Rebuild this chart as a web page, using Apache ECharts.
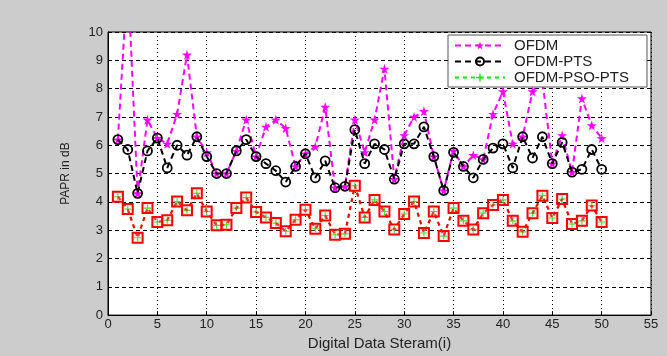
<!DOCTYPE html>
<html>
<head>
<meta charset="utf-8">
<script src="https://cdn.jsdelivr.net/npm/echarts@6/dist/echarts.min.js"></script>
<style>
html,body{margin:0;padding:0;background:#cccccc;}
#c{width:667px;height:356px;}
</style>
</head>
<body>
<div id="c"></div>
<script>
const streamIdx = [1,2,3,4,5,6,7,8,9,10,11,12,13,14,15,16,17,18,19,20,21,22,23,24,25,26,27,28,29,30,31,32,33,34,35,36,37,38,39,40,41,42,43,44,45,46,47,48,49,50];
const ofdm = [6.2,12,4.3,6.9,6.25,6.05,7.1,9.2,6.3,5.75,5.0,5.0,5.8,6.9,5.6,6.65,6.9,6.6,5.25,5.7,5.95,7.35,4.5,4.55,6.9,5.75,6.9,8.7,4.8,6.35,7.0,7.2,5.6,4.4,5.8,5.25,5.65,5.5,7.1,7.9,6.05,6.3,7.9,8.3,5.35,6.35,5.05,7.65,6.7,6.25];
const pts = [6.2,5.85,4.3,5.8,6.25,5.2,6.0,5.65,6.3,5.6,5.0,5.0,5.8,6.2,5.6,5.35,5.1,4.7,5.25,5.7,4.85,5.45,4.5,4.55,6.55,5.35,6.05,5.85,4.8,6.05,6.05,6.65,5.6,4.4,5.75,5.25,4.85,5.5,5.9,6.05,5.2,6.3,5.55,6.3,5.35,6.1,5.05,5.15,5.85,5.15];
const psoPts = [4.18,3.75,2.73,3.78,3.29,3.35,4.01,3.7,4.3,3.66,3.17,3.19,3.78,4.15,3.64,3.45,3.25,2.96,3.37,3.72,3.05,3.52,2.84,2.87,4.57,3.45,4.07,3.66,3.02,3.57,4.01,2.9,3.66,2.79,3.78,3.33,3.02,3.6,3.89,4.07,3.33,2.94,3.6,4.22,3.43,4.1,3.22,3.33,3.87,3.29];
const xTicks = [0,5,10,15,20,25,30,35,40,45,50,55];
const yTicks = [0,1,2,3,4,5,6,7,8,9,10];
const seriesNames = ['OFDM','OFDM-PTS','OFDM-PSO-PTS'];

const pair = arr => streamIdx.map((x,i)=>[x,arr[i]]);
const star = 'path://M50,0 L61,35 L98,35 L68,57 L79,91 L50,70 L21,91 L32,57 L2,35 L39,35 Z';
const plus = 'path://M42,0 L58,0 L58,42 L100,42 L100,58 L58,58 L58,100 L42,100 L42,58 L0,58 L0,42 L42,42 Z';
const font = 'Liberation Sans, Arial, sans-serif';

const chart = echarts.init(document.getElementById('c'), null, {renderer:'canvas'});
chart.setOption({
  backgroundColor:'#cccccc',
  animation:false,
  grid:{left:108, top:32, width:543, height:286, show:true, backgroundColor:'#ffffff', borderColor:'#000', borderWidth:1},
  xAxis:{
    type:'value', min:xTicks[0], max:xTicks[xTicks.length-1], interval:5,
    name:'Digital Data Steram(i)', nameLocation:'middle', nameGap:17,
    nameTextStyle:{fontFamily:font, fontSize:15, color:'#222'},
    axisLine:{show:true, lineStyle:{color:'#000'}},
    axisTick:{show:true, inside:true, length:4, lineStyle:{color:'#000'}},
    axisLabel:{fontFamily:font, fontSize:13, color:'#222', margin:3},
    splitLine:{show:true, lineStyle:{color:'#000', type:[1,3], width:1}}
  },
  yAxis:{
    type:'value', min:yTicks[0], max:yTicks[yTicks.length-1], interval:1,
    name:'PAPR in dB', nameLocation:'middle', nameGap:36, nameRotate:90,
    nameTextStyle:{fontFamily:font, fontSize:12, color:'#222'},
    axisLine:{show:true, lineStyle:{color:'#000'}},
    axisTick:{show:true, inside:true, length:4, lineStyle:{color:'#000'}},
    axisLabel:{fontFamily:font, fontSize:13, color:'#222', margin:5},
    splitLine:{show:true, lineStyle:{color:'#000', type:[4,3], width:1}}
  },
  legend:{
    data:seriesNames, orient:'vertical', left:448, top:35,
    backgroundColor:'#ffffff', borderColor:'#555', borderWidth:1, borderRadius:0,
    padding:[3,18,2,6], itemGap:1, itemWidth:50, itemHeight:10,
    textStyle:{fontFamily:font, fontSize:15, color:'#222', padding:[0,0,0,4]}
  },
  series:[
    {name:seriesNames[0], type:'line', data:pair(ofdm), symbol:star, symbolSize:10,
     itemStyle:{color:'#ff00ff'}, lineStyle:{color:'#ff00ff', width:2, type:[6,4]}, z:2},
    {name:seriesNames[2], type:'line', data:pair(psoPts), symbol:plus, symbolSize:7,
     itemStyle:{color:'#00ee00'}, lineStyle:{color:'#00ee00', width:1.5, type:[4,4]}, z:2},
    {name:'psoSquares', type:'line', data:pair(psoPts), symbol:'rect', symbolSize:10,
     itemStyle:{color:'rgba(255,200,200,0.25)', borderColor:'#ff0000', borderWidth:2},
     lineStyle:{color:'#ff0000', width:2.2, type:[4,4]}, z:3},
    {name:seriesNames[1], type:'line', data:pair(pts), symbol:'circle', symbolSize:9,
     itemStyle:{color:'rgba(0,0,0,0)', borderColor:'#000', borderWidth:1.8},
     lineStyle:{color:'#000', width:2, type:[6,4]}, z:4}
  ]
});
</script>
</body>
</html>
